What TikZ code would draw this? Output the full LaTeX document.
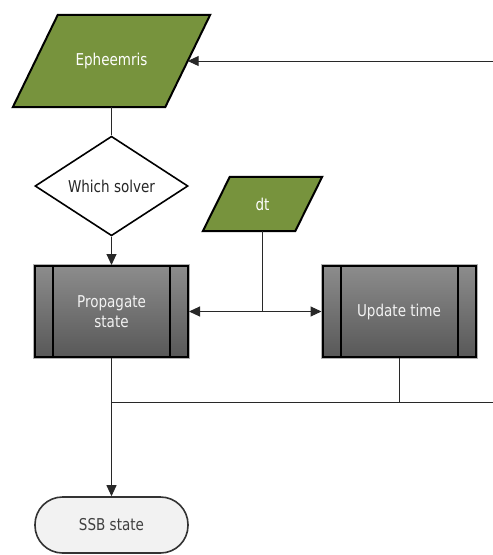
\documentclass[tikz,border=0pt]{standalone}
\usepackage{fontspec}
\setmainfont{DejaVu Sans}[FakeStretch=0.83]
\usetikzlibrary{shapes.geometric,arrows.meta,calc,backgrounds}
\definecolor{grn}{RGB}{119,147,61}
\definecolor{ptop}{RGB}{140,140,140}
\definecolor{pbot}{RGB}{88,88,88}
\definecolor{termfill}{RGB}{242,242,242}
\definecolor{termdraw}{RGB}{51,51,51}
\definecolor{termtext}{RGB}{64,64,64}
\definecolor{conn}{RGB}{40,40,40}
\begin{document}
\begin{tikzpicture}[x={(1pt,0pt)},y={(0pt,-1pt)},
  every node/.style={font=\fontsize{16.3}{20.5}\selectfont},
  iobox/.style={rectangle, inner sep=0pt, text=white},
  ioshape/.style={draw=black, line width=2pt, fill=grn, line join=miter},
  procbox/.style={rectangle, draw=black, line width=2pt, top color=ptop, bottom color=pbot,
    preaction={draw=black!30, line width=4pt},
    minimum width=153pt, minimum height=91pt, inner sep=0pt, text=white!95!black, align=center},
  decbox/.style={diamond, draw=black, line width=1.6pt, fill=white, minimum width=153pt,
    minimum height=92pt, inner sep=0pt, text=black!85},
  termbox/.style={rectangle, rounded corners=27.5pt, draw=termdraw, line width=1.6pt, fill=termfill,
    minimum width=153pt, minimum height=56pt, inner sep=0pt, text=termtext},
  conline/.style={draw=conn, line width=1pt},
  arr/.style={conline, -{Triangle[length=11pt,width=10pt]}}
]
\useasboundingbox (0,0) rectangle (493,555);

\node[iobox, minimum width=152pt, minimum height=92pt] (eph) at (111.5,61) {Epheemris};
\node[decbox] (sol) at (111.5,186) {Which solver};
\node[iobox, minimum width=92pt, minimum height=54pt] (dt) at (262.5,204) {dt};
\node[procbox] (prop) at (111.5,311.5) {Propagate\\state};
\node[procbox] (upd) at (399,311.5) {Update time};
\node[termbox] (ssb) at (111.5,525) {SSB state};

\begin{scope}[on background layer]
  \draw[ioshape] ([xshift=22.5pt]eph.north west) -- ([xshift=22.5pt]eph.north east)
    -- ([xshift=-22.5pt]eph.south east) -- ([xshift=-22.5pt]eph.south west) -- cycle;
  \draw[ioshape] ([xshift=13.5pt]dt.north west) -- ([xshift=13.5pt]dt.north east)
    -- ([xshift=-13.5pt]dt.south east) -- ([xshift=-13.5pt]dt.south west) -- cycle;
\end{scope}

\foreach \n in {prop,upd}{
  \draw[line width=2pt] ([xshift=19pt]\n.north west) -- ([xshift=19pt]\n.south west);
  \draw[line width=2pt] ([xshift=-19pt]\n.north east) -- ([xshift=-19pt]\n.south east);
}

\coordinate (ein) at (493,61);
\coordinate (lr) at (493,402);

\draw[arr] (ein) -- (eph.east);
\draw[conline] (eph.south) -- (sol.north);
\draw[arr] (sol.south) -- (prop.north);
\draw[arr] (dt.south) |- (prop.east);
\draw[arr] (dt.south) |- (upd.west);
\draw[arr] (prop.south) -- (ssb.north);
\draw[conline] (upd.south) |- (lr);
\draw[conline] (prop.south |- lr) -- (upd.south |- lr);
\end{tikzpicture}
\end{document}
